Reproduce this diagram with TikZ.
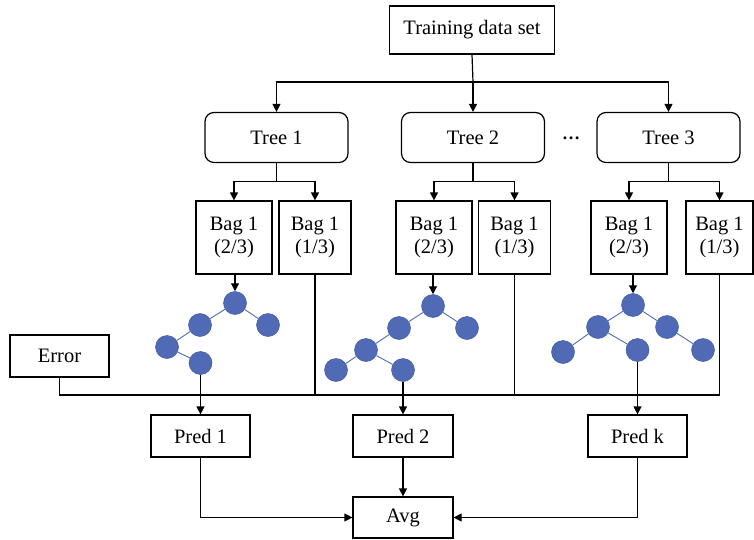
\documentclass[tikz,border=0pt]{standalone}
\usepackage{fontspec}
\setmainfont{Liberation Serif}
\usetikzlibrary{arrows.meta}
\definecolor{nodeblue}{RGB}{80,106,182}
\definecolor{nodeedge}{RGB}{66,90,160}
\begin{document}
\begin{tikzpicture}[x=1pt,y=-1pt,
  every node/.style={font=\fontsize{20.5}{23}\selectfont},
  box/.style={draw,line width=1.2pt,inner sep=0pt,align=center},
  rbox/.style={box,rounded corners=9pt},
  tn/.style={circle,fill=nodeblue,draw=nodeedge,line width=0.5pt,minimum size=23pt,inner sep=0pt},
  te/.style={draw=nodeblue,line width=0.9pt},
  conn/.style={line width=1.2pt},
  arr/.style={conn,-{Triangle[length=8pt,width=8pt]}}]
\useasboundingbox (0,0) rectangle (754,540);
% top
\node[box,minimum width=165pt,minimum height=48pt] (train) at (472,30) {Training data set};
\node[rbox,minimum width=143pt,minimum height=50pt] (t1) at (276.5,137.5) {Tree 1};
\node[rbox,minimum width=143pt,minimum height=50pt] (t2) at (473,137.5) {Tree 2};
\node[rbox,minimum width=143pt,minimum height=50pt] (t3) at (668.5,137.5) {Tree 3};
\node[anchor=base,inner sep=0pt,font=\fontsize{18}{20}\selectfont\bfseries] (dots) at (571,140) {…};
\coordinate (split) at (473,82);
\draw[conn] (train.south) -- (split);
\draw[arr] (split) -- (t2.north);
\draw[arr] (split) -| (t1.north);
\draw[arr] (split) -| (t3.north);
% bags
\node[box,minimum width=76pt,minimum height=73pt] (b1a) at (234,237.5) {Bag 1\\(2/3)};
\node[box,minimum width=72pt,minimum height=73pt] (b1b) at (315,237.5) {Bag 1\\(1/3)};
\node[box,minimum width=76pt,minimum height=73pt] (b2a) at (434,237.5) {Bag 1\\(2/3)};
\node[box,minimum width=72pt,minimum height=73pt] (b2b) at (514.5,237.5) {Bag 1\\(1/3)};
\node[box,minimum width=76pt,minimum height=73pt] (b3a) at (629,237.5) {Bag 1\\(2/3)};
\node[box,minimum width=67pt,minimum height=73pt] (b3b) at (719.5,237.5) {Bag 1\\(1/3)};
\foreach \t/\a/\b in {t1/b1a/b1b,t2/b2a/b2b,t3/b3a/b3b}{
  \draw[conn] (\t.south) -- ++(0,18) coordinate (m\t);
  \draw[arr] (m\t) -| (\a.north);
  \draw[arr] (m\t) -| (\b.north);
}
% trees
\node[tn] (r1) at (235,303) {};
\node[tn] (r1l) at (200,325) {};
\node[tn] (r1r) at (268,325) {};
\node[tn] (r1ll) at (167,347) {};
\node[tn] (r1llr) at (200.5,363) {};
\draw[te] (r1) -- (r1l) (r1) -- (r1r) (r1l) -- (r1ll) (r1ll) -- (r1llr);
\node[tn] (r2) at (433,306) {};
\node[tn] (r2l) at (399,328) {};
\node[tn] (r2r) at (467,328) {};
\node[tn] (r2ll) at (366,350) {};
\node[tn] (r2lll) at (336,370) {};
\node[tn] (r2llr) at (403,370) {};
\draw[te] (r2) -- (r2l) (r2) -- (r2r) (r2l) -- (r2ll) (r2ll) -- (r2lll) (r2ll) -- (r2llr);
\node[tn] (r3) at (633,305) {};
\node[tn] (r3l) at (598,327) {};
\node[tn] (r3r) at (667,327) {};
\node[tn] (r3ll) at (563,352) {};
\node[tn] (r3lr) at (637.5,350) {};
\node[tn] (r3rr) at (703,350) {};
\draw[te] (r3) -- (r3l) (r3) -- (r3r) (r3l) -- (r3ll) (r3l) -- (r3lr) (r3r) -- (r3rr);
% bag to root
\draw[arr] (r1 |- b1a.south) -- (r1.north);
\draw[arr] (r2 |- b2a.south) -- (r2.north);
\draw[arr] (r3 |- b3a.south) -- (r3.north);
% error
\node[box,minimum width=99pt,minimum height=42pt] (err) at (59.5,356) {Error};
\coordinate (eline) at (59.5,395);
\draw[conn] (err.south) -- (eline) -- (eline -| b3b.south) -- (b3b.south);
\draw[conn] (b1b.south) -- (b1b.south |- eline);
\draw[conn] (b2b.south) -- (b2b.south |- eline);
% preds
\node[box,minimum width=99pt,minimum height=42pt] (p1) at (200.5,436) {Pred 1};
\node[box,minimum width=100pt,minimum height=42pt] (p2) at (403,436) {Pred 2};
\node[box,minimum width=99pt,minimum height=42pt] (pk) at (637.5,436) {Pred k};
\draw[arr] (r1llr) -- (p1.north);
\draw[arr] (r2llr) -- (p2.north);
\draw[arr] (r3lr) -- (pk.north);
\node[box,minimum width=100pt,minimum height=41pt] (avg) at (403,517.5) {Avg};
\draw[arr] (p1.south) |- (avg.west);
\draw[arr] (p2.south) -- (avg.north);
\draw[arr] (pk.south) |- (avg.east);
\end{tikzpicture}
\end{document}
